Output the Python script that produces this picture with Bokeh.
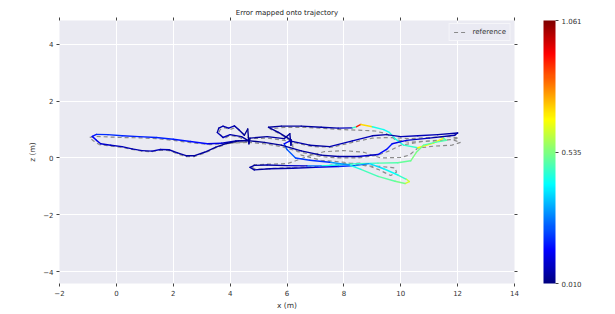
import numpy as np
from bokeh.plotting import figure
from bokeh.models import (ColumnDataSource, LinearColorMapper, ColorBar, FixedTicker,
                          PrintfTickFormatter, LinearAxis, Range1d, Legend, LegendItem)
from bokeh.embed import file_html
from bokeh.resources import INLINE

# ---------------- data ----------------
est_x = [4.65, 4.2, 3.7, 3.2, 2.6, 2.0, 1.4, 0.8, 0.2, -0.3, -0.7, -0.85, -0.7, -0.55, -0.2, 0.2, 0.55, 0.9,
         1.25, 1.55, 1.85, 2.15, 2.45, 2.75, 3.1, 3.5, 3.9, 4.3, 4.65,
         4.4, 4.0, 3.75, 3.55, 3.6, 3.75, 3.95, 4.15, 4.3, 4.5, 4.62, 4.66, 4.7,
         5.3, 5.9, 6.1, 6.14, 6.15,
         5.7, 5.35, 5.8, 6.5, 7.2, 7.8, 8.3, 8.45, 8.6, 9.0, 9.4, 9.6, 9.8, 10.1, 10.6, 11.15, 11.5, 11.6,
         11.2, 10.8, 10.55, 10.35, 9.9, 9.2, 8.5, 7.8, 7.2, 6.7, 6.0, 5.3, 4.85, 4.7, 4.85, 5.4, 6.2, 7.0,
         7.8, 8.4, 8.9, 9.4, 9.9, 10.2, 10.3, 10.15, 9.8, 9.2, 8.6, 8.2,
         7.5, 6.8, 6.3, 6.0, 5.9, 6.1,
         6.8, 7.5, 8.3, 9.0, 9.5, 10.0, 10.6, 11.3, 12.0, 11.9, 11.0, 10.2, 9.7, 9.5, 9.2, 8.5, 7.8, 7.2,
         6.5, 5.8, 5.2, 4.7]
est_z = [0.62, 0.6, 0.52, 0.5, 0.58, 0.66, 0.72, 0.75, 0.78, 0.82, 0.83, 0.76, 0.62, 0.5, 0.45, 0.4, 0.32, 0.26,
         0.24, 0.3, 0.29, 0.18, 0.08, 0.08, 0.2, 0.38, 0.52, 0.6, 0.6,
         0.75, 0.82, 0.72, 0.9, 1.05, 1.12, 1.05, 1.13, 1.0, 0.8, 1.02, 0.5, 0.7,
         0.75, 0.68, 0.85, 0.45, 0.63,
         0.9, 1.08, 1.12, 1.12, 1.08, 1.05, 1.06, 1.1, 1.18, 1.1, 1.0, 0.9, 0.68, 0.45, 0.36, 0.52, 0.7, 0.62,
         0.55, 0.45, 0.2, -0.1, -0.17, -0.18, -0.2, -0.25, -0.28, -0.28, -0.27, -0.25, -0.26, -0.33, -0.42, -0.38, -0.36, -0.33,
         -0.3, -0.27, -0.2, -0.38, -0.6, -0.75, -0.83, -0.9, -0.82, -0.65, -0.4, -0.25,
         -0.15, -0.08, 0.0, 0.3, 0.5, 0.6,
         0.45, 0.4, 0.6, 0.78, 0.82, 0.75, 0.78, 0.82, 0.88, 0.8, 0.7, 0.62, 0.5, 0.3, 0.12, 0.05, 0.05, 0.1,
         0.25, 0.45, 0.55, 0.6]
est_err = [0.04, 0.06, 0.10, 0.14, 0.16, 0.17, 0.18, 0.17, 0.18, 0.20, 0.18, 0.15, 0.12, 0.10, 0.08, 0.07, 0.06, 0.06,
           0.07, 0.08, 0.06, 0.05, 0.05, 0.05, 0.04, 0.04, 0.03, 0.03, 0.03,
           0.05, 0.06, 0.08, 0.06, 0.05, 0.06, 0.07, 0.06, 0.05, 0.04, 0.03, 0.03, 0.04,
           0.04, 0.05, 0.04, 0.04, 0.04,
           0.04, 0.04, 0.04, 0.04, 0.05, 0.06, 0.08, 0.85, 0.95, 0.45, 0.40, 0.42, 0.45, 0.42, 0.50, 0.85, 0.50, 0.50,
           0.48, 0.50, 0.55, 0.52, 0.50, 0.48, 0.45, 0.45, 0.40, 0.12, 0.06, 0.05, 0.05, 0.05, 0.05, 0.05, 0.06, 0.08,
           0.15, 0.22, 0.35, 0.40, 0.42, 0.50, 0.70, 0.55, 0.50, 0.50, 0.45, 0.40,
           0.20, 0.18, 0.22, 0.25, 0.22, 0.06,
           0.05, 0.05, 0.08, 0.06, 0.05, 0.06, 0.08, 0.06, 0.05, 0.05, 0.06, 0.10, 0.14, 0.18, 0.12, 0.06, 0.05, 0.05,
           0.04, 0.04, 0.03, 0.03]

ref_x = [4.6, 4.0, 3.3, 2.6, 2.0, 1.4, 0.8, 0.2, -0.3, -0.7, -0.95, -0.8, -0.6, -0.2, 0.2, 0.55, 0.9, 1.25,
         1.55, 1.85, 2.15, 2.45, 2.75, 3.1, 3.5, 3.9, 4.3, 4.6,
         4.35, 4.0, 3.8, 3.6, 3.65, 3.8, 4.0, 4.2, 4.35, 4.55, 4.7,
         5.3, 5.9, 6.2,
         5.75, 5.4, 5.9, 6.6, 7.3, 7.9, 8.5, 9.1, 9.5, 9.8, 10.3, 11.0, 11.8, 12.1, 11.8, 11.2, 10.6, 10.3,
         10.0, 9.3, 8.7, 8.0, 7.3, 6.7, 6.3, 6.0, 5.3, 4.85, 4.75, 4.9, 5.5, 6.3, 7.2, 8.0, 8.6,
         9.2, 9.65, 9.85, 9.8, 9.3, 8.8, 8.0, 7.2, 6.5, 6.2, 6.2,
         6.9, 7.6, 8.3, 9.0, 9.6, 10.3, 11.0, 11.7, 12.05, 11.6, 10.8, 10.0, 9.6, 9.2, 8.5, 7.8, 7.2,
         6.5, 5.8, 5.2, 4.65]
ref_z = [0.55, 0.52, 0.47, 0.54, 0.62, 0.68, 0.71, 0.72, 0.74, 0.76, 0.72, 0.6, 0.47, 0.42, 0.37, 0.3, 0.24, 0.22,
         0.27, 0.26, 0.15, 0.05, 0.05, 0.17, 0.36, 0.5, 0.56, 0.55,
         0.72, 0.8, 0.68, 0.88, 1.0, 1.07, 1.0, 1.08, 0.95, 0.78, 0.68,
         0.7, 0.62, 0.55,
         0.85, 1.02, 1.08, 1.08, 1.04, 1.0, 0.98, 0.95, 0.85, 0.65, 0.55, 0.6, 0.65, 0.55, 0.45, 0.42, 0.35, 0.1,
         0.02, 0.0, 0.2, 0.26, 0.22, 0.05, -0.1, -0.2, -0.22, -0.24, -0.32, -0.4, -0.37, -0.33, -0.3, -0.2, -0.18,
         -0.4, -0.62, -0.5, -0.35, -0.3, -0.28, -0.15, -0.08, 0.1, 0.4, 0.55,
         0.4, 0.38, 0.55, 0.7, 0.72, 0.68, 0.72, 0.75, 0.7, 0.62, 0.58, 0.45, 0.25, 0.1, 0.0, 0.0, 0.05,
         0.2, 0.4, 0.5, 0.55]

x_ticks = [-2, 0, 2, 4, 6, 8, 10, 12, 14]
z_ticks = [-4, -2, 0, 2, 4]
cbar_ticks = [0.010, 0.535, 1.061]
err_min, err_max = 0.010, 1.061


# ---------------- jet palette ----------------
def jet_palette(n=256):
    out = []
    for i in range(n):
        t = i / (n - 1)
        r = min(max(min(4 * t - 1.5, -4 * t + 4.5), 0), 1)
        g = min(max(min(4 * t - 0.5, -4 * t + 3.5), 0), 1)
        b = min(max(min(4 * t + 0.5, -4 * t + 2.5), 0), 1)
        out.append("#%02x%02x%02x" % (int(r * 255), int(g * 255), int(b * 255)))
    return out


palette = jet_palette()
mapper = LinearColorMapper(palette=palette, low=err_min, high=err_max)

TXT = "#333333"
FONT = "DejaVu Sans"

p = figure(frame_width=455, frame_height=263,
           x_range=Range1d(-2, 14), y_range=Range1d(-4.42, 4.84),
           output_backend="svg", toolbar_location=None,
           min_border_left=59, min_border_top=20, min_border_bottom=31, min_border_right=20,
           title="Error mapped onto trajectory")
p.background_fill_color = "#EAEAF2"
p.border_fill_color = "white"
p.outline_line_color = None
p.title.align = "center"
p.title.text_font_size = "7px"
p.title.text_font_style = "normal"
p.title.text_font = FONT
p.title.text_color = "#222222"
p.title.standoff = 1

for g in (p.xgrid, p.ygrid):
    g.grid_line_color = "white"
    g.grid_line_width = 1
p.xgrid.ticker = FixedTicker(ticks=x_ticks)
p.ygrid.ticker = FixedTicker(ticks=z_ticks)


def style_axis(ax, ticks, labels=True, standoff=3):
    ax.ticker = FixedTicker(ticks=ticks)
    ax.axis_line_color = None
    ax.major_tick_in = 0
    ax.major_tick_out = 3
    ax.major_tick_line_color = "#444444"
    ax.minor_tick_line_color = None
    ax.major_label_text_font = FONT
    ax.major_label_text_color = TXT
    ax.axis_label_text_font = FONT
    ax.axis_label_text_color = TXT
    ax.axis_label_text_font_style = "normal"
    ax.axis_label_text_font_size = "7.5px"
    ax.major_label_text_font_size = "7px"
    ax.major_label_standoff = standoff
    if not labels:
        ax.major_label_overrides = {t: "" for t in ticks}


style_axis(p.xaxis[0], x_ticks)
style_axis(p.yaxis[0], z_ticks)
p.xaxis[0].axis_label = "x (m)"
p.yaxis[0].axis_label = "z (m)"
p.xaxis[0].axis_label_standoff = 2
p.yaxis[0].axis_label_standoff = 3

top_ax = LinearAxis()
style_axis(top_ax, x_ticks, labels=False, standoff=0)
p.add_layout(top_ax, "above")
right_ax = LinearAxis()
style_axis(right_ax, z_ticks, labels=False, standoff=0)
p.add_layout(right_ax, "right")
# invisible spacer between the frame's right ticks and the colour bar
spacer_ax = LinearAxis()
style_axis(spacer_ax, z_ticks, labels=False, standoff=0)
spacer_ax.major_tick_out = 26
spacer_ax.major_tick_line_color = None
p.add_layout(spacer_ax, "right")

# reference (dashed gray)
ref_r = p.line(ref_x, ref_z, line_color="#7f7f7f", line_dash="4 3", line_width=1.2, line_alpha=0.9)

# estimate coloured by error
seg = ColumnDataSource(dict(
    x0=est_x[:-1], y0=est_z[:-1], x1=est_x[1:], y1=est_z[1:],
    err=[(a + b) / 2 for a, b in zip(est_err[:-1], est_err[1:])]))
p.segment("x0", "y0", "x1", "y1", source=seg, line_width=1.4,
          line_color={"field": "err", "transform": mapper}, line_cap="round")

legend = Legend(items=[LegendItem(label="reference", renderers=[ref_r])], location="top_right")
legend.label_text_font = FONT
legend.label_text_font_size = "7px"
legend.label_text_color = TXT
legend.glyph_width = 14
legend.glyph_height = 8
legend.padding = 4
legend.spacing = 0
legend.margin = 3
legend.background_fill_color = "#EAEAF2"
legend.border_line_color = "white"
legend.label_height = 8
p.add_layout(legend)

cb = ColorBar(color_mapper=mapper, ticker=FixedTicker(ticks=cbar_ticks),
              formatter=PrintfTickFormatter(format="%.3f"), width=12,
              major_tick_in=0, major_tick_out=3, major_tick_line_color="#444444",
              major_label_text_font=FONT, major_label_text_font_size="7px",
              major_label_text_color=TXT, bar_line_color=None, border_line_color=None,
              background_fill_color="white", padding=0, margin=0, label_standoff=3)
p.add_layout(cb, "right")

open("out.html", "w").write(file_html(p, INLINE))
